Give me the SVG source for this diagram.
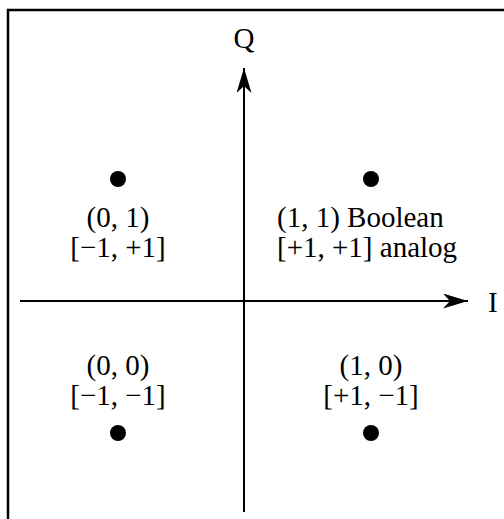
<svg xmlns="http://www.w3.org/2000/svg" width="504" height="519" viewBox="0 0 504 519">
<style>
text{font-family:"Liberation Serif","Times New Roman",serif;font-size:29px;fill:#000}
.ax{stroke:#000;stroke-width:2;fill:none}
.fr{stroke:#000;stroke-width:2.5;fill:none}
.dot{fill:#000}
</style>
<defs>
<marker id="ah" markerUnits="userSpaceOnUse" markerWidth="28" markerHeight="18" refX="25" refY="7.5" orient="auto">
<path d="M0,0 L25,7.5 L0,15 L7,7.5 Z" fill="#000"/>
</marker>
</defs>
<rect width="504" height="519" fill="#fff"/>
<path d="M8,519 V10 H504" class="fr"/>
<g id="connectors">
<line x1="20" y1="301" x2="468" y2="301" class="ax" marker-end="url(#ah)"/>
<line x1="244" y1="512" x2="244" y2="68" class="ax" marker-end="url(#ah)"/>
</g>
<g id="axis-q"><text x="244" y="48" text-anchor="middle">Q</text></g>
<g id="axis-i"><text x="488" y="312">I</text></g>
<g id="p01">
<circle cx="118" cy="179" r="8" class="dot"/>
<text x="118" y="227" text-anchor="middle">(0, 1)</text>
<text x="118" y="257" text-anchor="middle">[−1, +1]</text>
</g>
<g id="p11">
<circle cx="371" cy="179" r="8" class="dot"/>
<text x="277" y="227">(1, 1) Boolean</text>
<text x="277" y="257">[+1, +1] analog</text>
</g>
<g id="p00">
<circle cx="118" cy="433" r="8" class="dot"/>
<text x="118" y="375" text-anchor="middle">(0, 0)</text>
<text x="118" y="405" text-anchor="middle">[−1, −1]</text>
</g>
<g id="p10">
<circle cx="371" cy="433" r="8" class="dot"/>
<text x="371" y="375" text-anchor="middle">(1, 0)</text>
<text x="371" y="405" text-anchor="middle">[+1, −1]</text>
</g>
</svg>
